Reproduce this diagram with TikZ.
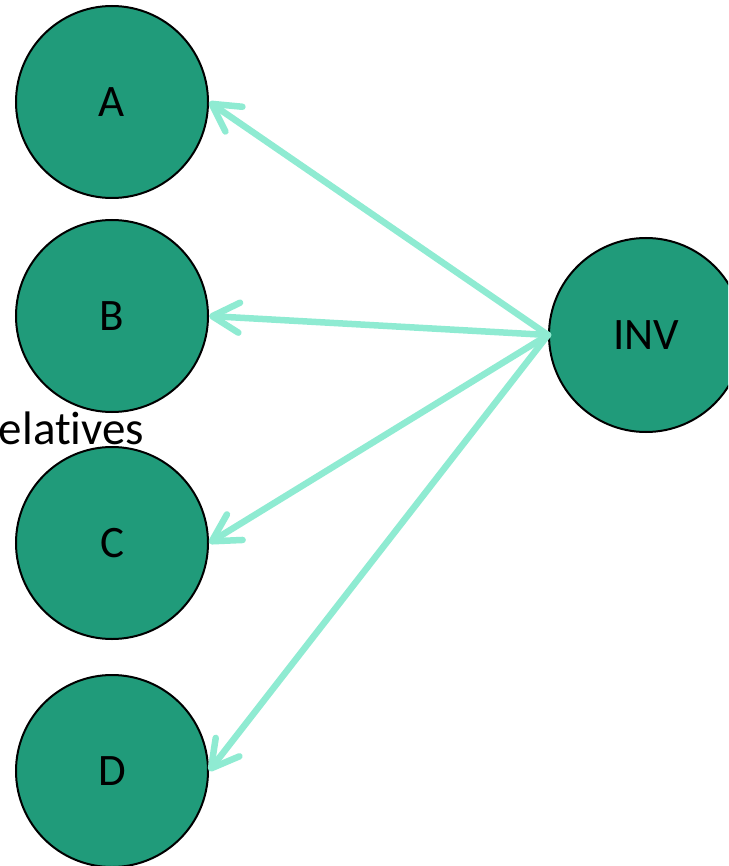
\documentclass[tikz,border=0pt]{standalone}
\usepackage{fontspec}
\setmainfont{Carlito}[Ligatures=NoCommon]
\usetikzlibrary{arrows.meta}
\definecolor{nodegreen}{RGB}{32,155,122}
\definecolor{linkmint}{RGB}{143,235,210}
\begin{document}
\begin{tikzpicture}[x=1pt,y=-1pt,
  entity/.style={circle,draw=black,line width=2pt,fill=nodegreen,minimum size=192pt,inner sep=0pt,font=\fontsize{45}{54}\selectfont},
  link/.style={draw=linkmint,line width=6.5pt,line cap=round,-{Straight Barb[round,length=27pt,width=30pt]}}]
\useasboundingbox (0,0) rectangle (728,866);
\clip (0,0) rectangle (728,866);
\node[entity] (A) at (112,102) {A};
\node[entity] (B) at (112,316) {B};
\node[entity] (C) at (112,543) {C};
\node[entity] (D) at (112,771) {D};
\node[entity,minimum size=194pt] (INV) at (646,335) {INV};
\node[anchor=base west,inner sep=0pt,font=\fontsize{47}{56}\selectfont] (rel) at (-17,444) {relatives};
\draw[link] (INV.west) -- (A.east);
\draw[link] (INV.west) -- (B.east);
\draw[link] (INV.west) -- (C.east);
\draw[link] (INV.west) -- (D.east);
\end{tikzpicture}
\end{document}
